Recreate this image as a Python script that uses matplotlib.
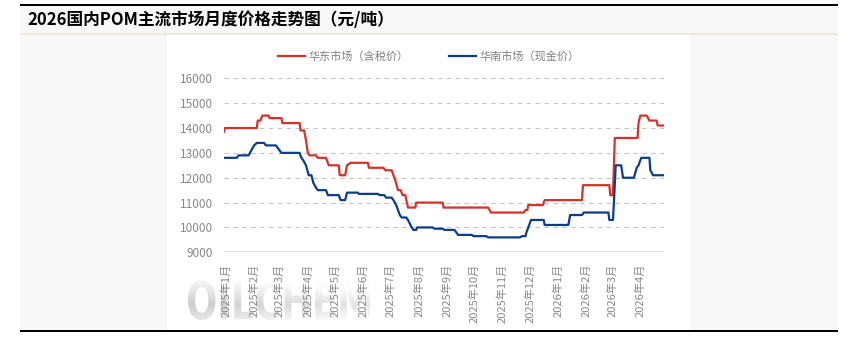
import numpy as np
import pandas as pd
import matplotlib
matplotlib.use("Agg")
import matplotlib.pyplot as plt
from matplotlib.patches import Rectangle, PathPatch
from matplotlib.textpath import TextPath
from matplotlib.font_manager import FontProperties
from matplotlib.transforms import Affine2D

plt.rcParams["font.family"] = ["Noto Sans CJK SC", "DejaVu Sans"]

TITLE = "2026国内POM主流市场月度价格走势图（元/吨）"
EAST_LABEL = "华东市场（含税价）"
SOUTH_LABEL = "华南市场（现金价）"

# 华东市场（含税价）, turning points of the daily quote
east_dates = [
    "2024-12-30", "2024-12-31", "2025-02-04", "2025-02-05", "2025-02-08", "2025-02-10",
    "2025-02-17", "2025-02-18", "2025-03-03", "2025-03-04", "2025-03-23", "2025-03-24",
    "2025-03-28", "2025-03-30", "2025-04-01", "2025-04-03", "2025-04-10", "2025-04-12",
    "2025-04-21", "2025-04-24", "2025-05-05", "2025-05-06", "2025-05-12", "2025-05-14",
    "2025-05-18", "2025-06-06", "2025-06-07", "2025-06-23", "2025-06-25", "2025-07-02",
    "2025-07-06", "2025-07-09", "2025-07-12", "2025-07-14", "2025-07-17", "2025-07-20",
    "2025-07-28", "2025-07-29", "2025-08-27", "2025-08-28", "2025-10-16", "2025-10-19",
    "2025-11-24", "2025-11-26", "2025-11-28", "2025-11-29", "2025-12-15", "2025-12-17",
    "2026-01-27", "2026-01-28", "2026-02-26", "2026-02-27", "2026-03-02", "2026-03-03",
    "2026-03-04", "2026-03-29", "2026-03-30", "2026-04-01", "2026-04-08", "2026-04-11",
    "2026-04-19", "2026-04-20", "2026-04-27",
]
east_prices = [
    13850, 14000, 14000, 14300, 14300, 14500,
    14500, 14400, 14400, 14200, 14200, 13900,
    13900, 13500, 13000, 12900, 12900, 12800,
    12800, 12500, 12500, 12100, 12100, 12500,
    12600, 12600, 12400, 12400, 12300, 12300,
    11900, 11500, 11500, 11300, 11300, 10800,
    10800, 11000, 11000, 10800, 10800, 10600,
    10600, 10700, 10700, 10900, 10900, 11100,
    11100, 11700, 11700, 11300, 11300, 12500,
    13600, 13600, 14200, 14500, 14500, 14300,
    14300, 14100, 14100,
]

# 华南市场（现金价）
south_dates = [
    "2024-12-30", "2025-01-13", "2025-01-15", "2025-01-26", "2025-01-29", "2025-02-01",
    "2025-02-04", "2025-02-12", "2025-02-14", "2025-02-25", "2025-02-27", "2025-03-03",
    "2025-03-23", "2025-03-25", "2025-03-27", "2025-03-30", "2025-04-02", "2025-04-05",
    "2025-04-07", "2025-04-10", "2025-04-12", "2025-04-21", "2025-04-23", "2025-05-05",
    "2025-05-07", "2025-05-12", "2025-05-14", "2025-05-26", "2025-05-27", "2025-06-17",
    "2025-06-19", "2025-06-24", "2025-06-26", "2025-07-02", "2025-07-04", "2025-07-07",
    "2025-07-10", "2025-07-11", "2025-07-13", "2025-07-18", "2025-07-20", "2025-07-24",
    "2025-07-26", "2025-07-29", "2025-07-30", "2025-08-16", "2025-08-18", "2025-08-27",
    "2025-08-29", "2025-09-09", "2025-09-13", "2025-09-28", "2025-09-30", "2025-10-14",
    "2025-10-16", "2025-11-20", "2025-11-22", "2025-11-26", "2025-11-27", "2025-12-02",
    "2025-12-16", "2025-12-17", "2026-01-12", "2026-01-14", "2026-01-27", "2026-01-29",
    "2026-02-25", "2026-02-26", "2026-03-02", "2026-03-03", "2026-03-05", "2026-03-11",
    "2026-03-13", "2026-03-25", "2026-03-28", "2026-03-30", "2026-04-02", "2026-04-11",
    "2026-04-12", "2026-04-15", "2026-04-27",
]
south_prices = [
    12800, 12800, 12900, 12900, 13100, 13300,
    13400, 13400, 13300, 13300, 13200, 13000,
    13000, 12800, 12700, 12500, 12100, 12100,
    11800, 11600, 11500, 11500, 11300, 11300,
    11100, 11100, 11400, 11400, 11350, 11350,
    11300, 11300, 11200, 11200, 11100, 10900,
    10600, 10500, 10400, 10400, 10300, 10000,
    9900, 9900, 10000, 10000, 9950, 9950,
    9900, 9900, 9700, 9700, 9650, 9650,
    9600, 9600, 9650, 9650, 9800, 10300,
    10300, 10100, 10100, 10500, 10500, 10600,
    10600, 10300, 10300, 11000, 12500, 12500,
    12000, 12000, 12400, 12500, 12800, 12800,
    12300, 12100, 12100,
]

y_ticks = [9000, 10000, 11000, 12000, 13000, 14000, 15000, 16000]
month_ticks = pd.date_range("2025-01-01", "2026-04-01", freq="MS")
month_labels = [f"{d.year}年{d.month}月" for d in month_ticks]

east = pd.Series(east_prices, index=pd.to_datetime(east_dates))
south = pd.Series(south_prices, index=pd.to_datetime(south_dates))

W, H = 852, 341
fig = plt.figure(figsize=(W / 100, H / 100), dpi=100)
fig.patch.set_facecolor("white")

# page furniture drawn in pixel space
bg = fig.add_axes([0, 0, 1, 1], zorder=0)
bg.set_xlim(0, W)
bg.set_ylim(H, 0)
bg.axis("off")
bg.add_patch(Rectangle((20, 6), 818, 27, color="#f8f8f8", lw=0))
bg.add_patch(Rectangle((20, 33), 818, 2, color="#efe9dc", lw=0))
bg.add_patch(Rectangle((20, 35), 147, 295, color="#f8f8f8", lw=0))
bg.add_patch(Rectangle((690, 35), 148, 295, color="#f8f8f8", lw=0))
bg.add_patch(Rectangle((20, 3.5), 818, 2.5, color="black", lw=0))
bg.add_patch(Rectangle((20, 329.5), 818, 2.5, color="black", lw=0))

# watermark
tp = TextPath((0, 0), "OILCHEM", size=100,
              prop=FontProperties(family="DejaVu Sans", weight="bold"))
ext = tp.get_extents()
x0, x1, y0, y1 = 188, 370, 280, 320
tr = (Affine2D().translate(-ext.x0, -ext.y0)
      .scale((x1 - x0) / ext.width, -(y1 - y0) / ext.height)
      .translate(x0, y1))
wm = PathPatch(tr.transform_path(tp), facecolor="none", edgecolor="none")
bg.add_patch(wm)
gy = np.linspace(0, 1, 60)[:, None]
gx = np.linspace(0, 1, 120)[None, :]
shade = 0.80 + 0.16 * np.abs(gy - 0.62) / 0.62 + 0.10 * gx
grad = bg.imshow(np.clip(shade, 0, 0.985), cmap="gray", vmin=0, vmax=1,
                 extent=(x0, x1, y1, y0), aspect="auto", interpolation="bilinear")
grad.set_clip_path(wm)
bg.set_xlim(0, W)
bg.set_ylim(H, 0)

fig.text(27 / W, 1 - 20 / H, TITLE, fontsize=12, fontweight="bold",
         color="black", ha="left", va="center")

ax = fig.add_axes([224 / W, 1 - 252.3 / H, 440 / W, 174 / H], zorder=1)
ax.patch.set_alpha(0)
l1, = ax.plot(east.index, east.values, color="#d7312a", lw=1.6,
              solid_joinstyle="round", label=EAST_LABEL)
l2, = ax.plot(south.index, south.values, color="#0b3d8c", lw=1.6,
              solid_joinstyle="round", label=SOUTH_LABEL)

ax.set_xlim(pd.Timestamp("2024-12-30"), pd.Timestamp("2026-04-27"))
ax.set_ylim(9000, 16000)
ax.set_yticks(y_ticks)
ax.set_yticklabels([str(v) for v in y_ticks])
ax.set_xticks(month_ticks)
ax.set_xticklabels(month_labels, rotation=90)
ax.tick_params(axis="y", length=0, pad=8, labelsize=8.5, labelcolor="#888888")
ax.tick_params(axis="x", length=0, pad=8, labelsize=8, labelcolor="#888888")
for s in ax.spines.values():
    s.set_visible(False)
for v in y_ticks[1:]:
    ax.axhline(v, color="#c4c4c4", lw=0.8, ls=(0, (4, 4)), zorder=0)
ax.axhline(y_ticks[0], color="#d9d9d9", lw=1.2, zorder=0)

fig.legend(handles=[l1, l2], loc="center", bbox_to_anchor=(428.5 / W, 1 - 56 / H),
           ncol=2, frameon=False, fontsize=8, labelcolor="#808080",
           handlelength=2.45, handletextpad=0.3, columnspacing=3.6)

fig.savefig("out.png", dpi=100)
